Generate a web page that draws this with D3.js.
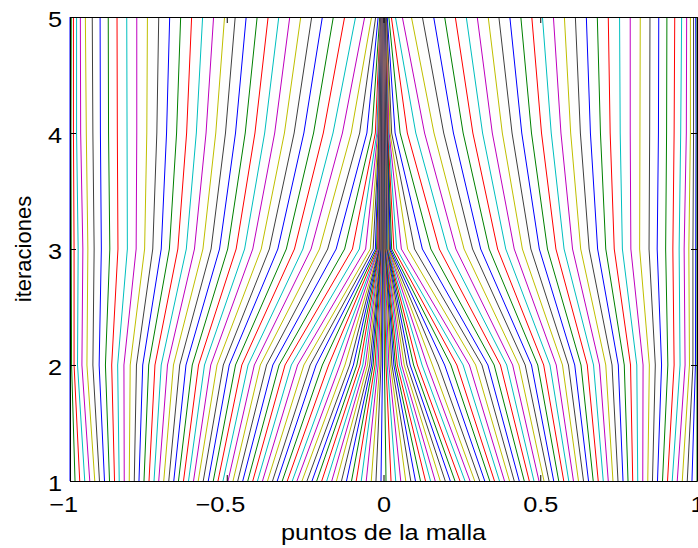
<!DOCTYPE html>
<html>
<head>
<meta charset="utf-8">
<script src="https://cdn.jsdelivr.net/npm/d3@7"></script>
<style>
  body { margin: 0; background: #fff; }
  text { font-family: "Liberation Sans", Arial, sans-serif; }
</style>
</head>
<body>
<div id="chart"></div>
<script>
// mesh point positions, one array per iteration (128 points each)
var iterations = [1, 2, 3, 4, 5];

var iter1 = [
  -1, -0.984, -0.969, -0.953, -0.937, -0.921, -0.906, -0.890, -0.874, -0.858,
  -0.843, -0.827, -0.811, -0.795, -0.780, -0.764, -0.748, -0.732, -0.717, -0.701,
  -0.685, -0.669, -0.654, -0.638, -0.622, -0.606, -0.591, -0.575, -0.559, -0.543,
  -0.528, -0.512, -0.496, -0.480, -0.465, -0.449, -0.433, -0.417, -0.402, -0.386,
  -0.370, -0.354, -0.339, -0.323, -0.307, -0.291, -0.276, -0.260, -0.244, -0.228,
  -0.213, -0.197, -0.181, -0.165, -0.150, -0.134, -0.118, -0.102, -0.087, -0.071,
  -0.055, -0.039, -0.024, -0.008,
  0.008, 0.024, 0.039, 0.055, 0.071, 0.087, 0.102, 0.118, 0.134, 0.150,
  0.165, 0.181, 0.197, 0.213, 0.228, 0.244, 0.260, 0.276, 0.291, 0.307,
  0.323, 0.339, 0.354, 0.370, 0.386, 0.402, 0.417, 0.433, 0.449, 0.465,
  0.480, 0.496, 0.512, 0.528, 0.543, 0.559, 0.575, 0.591, 0.606, 0.622,
  0.638, 0.654, 0.669, 0.685, 0.701, 0.717, 0.732, 0.748, 0.764, 0.780,
  0.795, 0.811, 0.827, 0.843, 0.858, 0.874, 0.890, 0.906, 0.921, 0.937,
  0.953, 0.969, 0.984, 1
];

var iter2 = [
  -1, -0.995, -0.987, -0.976, -0.962, -0.946, -0.927, -0.907, -0.887, -0.867,
  -0.848, -0.828, -0.808, -0.788, -0.768, -0.749, -0.729, -0.709, -0.689, -0.670,
  -0.650, -0.630, -0.610, -0.590, -0.571, -0.551, -0.531, -0.511, -0.492, -0.472,
  -0.452, -0.432, -0.412, -0.393, -0.373, -0.353, -0.333, -0.314, -0.294, -0.274,
  -0.254, -0.234, -0.215, -0.195, -0.175, -0.156, -0.139, -0.123, -0.108, -0.096,
  -0.085, -0.075, -0.066, -0.058, -0.051, -0.044, -0.038, -0.033, -0.027, -0.022,
  -0.017, -0.012, -0.008, -0.003,
  0.003, 0.008, 0.012, 0.017, 0.022, 0.027, 0.033, 0.038, 0.044, 0.051,
  0.058, 0.066, 0.075, 0.085, 0.096, 0.108, 0.123, 0.139, 0.156, 0.175,
  0.195, 0.215, 0.234, 0.254, 0.274, 0.294, 0.314, 0.333, 0.353, 0.373,
  0.393, 0.412, 0.432, 0.452, 0.472, 0.492, 0.511, 0.531, 0.551, 0.571,
  0.590, 0.610, 0.630, 0.650, 0.670, 0.689, 0.709, 0.729, 0.749, 0.768,
  0.788, 0.808, 0.828, 0.848, 0.867, 0.887, 0.907, 0.927, 0.946, 0.962,
  0.976, 0.987, 0.995, 1
];

var iter3 = [
  -1, -0.996, -0.987, -0.974, -0.959, -0.943, -0.923, -0.900, -0.873, -0.847,
  -0.817, -0.789, -0.762, -0.736, -0.709, -0.683, -0.656, -0.629, -0.603, -0.576,
  -0.550, -0.523, -0.497, -0.470, -0.443, -0.417, -0.390, -0.364, -0.337, -0.310,
  -0.284, -0.257, -0.231, -0.204, -0.178, -0.151, -0.124, -0.099, -0.077, -0.057,
  -0.042, -0.033, -0.026, -0.022, -0.019, -0.017, -0.016, -0.014, -0.0135, -0.0127,
  -0.0118, -0.0110, -0.0102, -0.0093, -0.0085, -0.0077, -0.0068, -0.0060, -0.0051, -0.0043,
  -0.0035, -0.0026, -0.0018, -0.0010,
  0.0010, 0.0018, 0.0026, 0.0035, 0.0043, 0.0051, 0.0060, 0.0068, 0.0077, 0.0085,
  0.0093, 0.0102, 0.0110, 0.0118, 0.0127, 0.0135, 0.014, 0.016, 0.017, 0.019,
  0.022, 0.026, 0.033, 0.042, 0.057, 0.077, 0.099, 0.124, 0.151, 0.178,
  0.204, 0.231, 0.257, 0.284, 0.310, 0.337, 0.364, 0.390, 0.417, 0.443,
  0.470, 0.497, 0.523, 0.550, 0.576, 0.603, 0.629, 0.656, 0.683, 0.709,
  0.736, 0.762, 0.789, 0.817, 0.847, 0.873, 0.900, 0.923, 0.943, 0.959,
  0.974, 0.987, 0.996, 1
];

var iter4 = [
  -1, -0.997, -0.989, -0.979, -0.966, -0.948, -0.927, -0.903, -0.877, -0.849,
  -0.818, -0.787, -0.755, -0.723, -0.692, -0.660, -0.628, -0.597, -0.566, -0.535,
  -0.504, -0.472, -0.441, -0.410, -0.379, -0.347, -0.316, -0.285, -0.254, -0.223,
  -0.192, -0.161, -0.131, -0.103, -0.076, -0.053, -0.037, -0.026, -0.021, -0.018,
  -0.016, -0.014, -0.0134, -0.0128, -0.0122, -0.0116, -0.0110, -0.0104, -0.0098, -0.0092,
  -0.0085, -0.0079, -0.0073, -0.0067, -0.0061, -0.0055, -0.0049, -0.0043, -0.0037, -0.0031,
  -0.0025, -0.0019, -0.0012, -0.0006,
  0.0006, 0.0012, 0.0019, 0.0025, 0.0031, 0.0037, 0.0043, 0.0049, 0.0055, 0.0061,
  0.0067, 0.0073, 0.0079, 0.0085, 0.0092, 0.0098, 0.0104, 0.0110, 0.0116, 0.0122,
  0.0128, 0.0134, 0.014, 0.016, 0.018, 0.021, 0.026, 0.037, 0.053, 0.076,
  0.103, 0.131, 0.161, 0.192, 0.223, 0.254, 0.285, 0.316, 0.347, 0.379,
  0.410, 0.441, 0.472, 0.504, 0.535, 0.566, 0.597, 0.628, 0.660, 0.692,
  0.723, 0.755, 0.787, 0.818, 0.849, 0.877, 0.903, 0.927, 0.948, 0.966,
  0.979, 0.989, 0.997, 1
];

var iter5 = [
  -1, -0.996, -0.989, -0.979, -0.967, -0.951, -0.929, -0.904, -0.878, -0.850,
  -0.819, -0.787, -0.753, -0.717, -0.682, -0.647, -0.612, -0.577, -0.542, -0.507,
  -0.473, -0.438, -0.403, -0.368, -0.334, -0.299, -0.264, -0.229, -0.195, -0.160,
  -0.124, -0.089, -0.060, -0.038, -0.025, -0.017, -0.012, -0.0099, -0.0095, -0.0092,
  -0.0088, -0.0084, -0.0080, -0.0077, -0.0073, -0.0070, -0.0066, -0.0062, -0.0058, -0.0055,
  -0.0051, -0.0047, -0.0044, -0.0040, -0.0036, -0.0033, -0.0029, -0.0025, -0.0022, -0.0018,
  -0.0014, -0.0011, -0.0007, -0.0003,
  0.0003, 0.0007, 0.0011, 0.0014, 0.0018, 0.0022, 0.0025, 0.0029, 0.0033, 0.0036,
  0.0040, 0.0044, 0.0047, 0.0051, 0.0055, 0.0058, 0.0062, 0.0066, 0.0070, 0.0073,
  0.0077, 0.0080, 0.0084, 0.0088, 0.0092, 0.0095, 0.0099, 0.012, 0.017, 0.025,
  0.038, 0.060, 0.089, 0.124, 0.160, 0.195, 0.229, 0.264, 0.299, 0.334,
  0.368, 0.403, 0.438, 0.473, 0.507, 0.542, 0.577, 0.612, 0.647, 0.682,
  0.717, 0.753, 0.787, 0.819, 0.850, 0.878, 0.904, 0.929, 0.951, 0.967,
  0.979, 0.989, 0.996, 1
];

var xTicks = [-1, -0.5, 0, 0.5, 1];
var xTickLabels = ["\u22121", "\u22120.5", "0", "0.5", "1"];
var yTicks = [1, 2, 3, 4, 5];
var yTickLabels = ["1", "2", "3", "4", "5"];

// matlab default line colour order
var lineColors = ["#0000ff", "#008000", "#ff0000", "#00bfbf", "#bf00bf", "#bfbf00", "#404040"];

var svgWidth = 698;
var svgHeight = 548;
var margin = { top: 17, right: 1, bottom: 67, left: 70 };
var width = svgWidth - margin.left - margin.right;
var height = svgHeight - margin.top - margin.bottom;
var stretch = 1.15;

var svg = d3.select("#chart")
  .append("svg")
  .attr("width", svgWidth)
  .attr("height", svgHeight);

var chartGroup = svg.append("g")
  .attr("transform", `translate(${margin.left}, ${margin.top})`);

var xScale = d3.scaleLinear().domain([-1, 1]).range([0, width]);
var yScale = d3.scaleLinear().domain([1, 5]).range([height, 0]);

var meshes = [iter1, iter2, iter3, iter4, iter5];
var paths = d3.range(iter1.length).map(function(k) {
  return iterations.map(function(it, i) { return { it: it, x: meshes[i][k] }; });
});

// frame + ticks (inward, on all four sides)
function styleAxis(g) {
  g.attr("font-family", null).attr("font-size", 22);
  g.select(".domain").attr("stroke", "#000").attr("stroke-width", 1);
  g.selectAll(".tick line").attr("stroke", "#000");
}

var line = d3.line()
  .x(d => xScale(d.x))
  .y(d => yScale(d.it));

chartGroup.append("g")
  .selectAll("path")
  .data(paths)
  .join("path")
  .attr("d", line)
  .attr("fill", "none")
  .attr("stroke", (d, k) => lineColors[k % lineColors.length])
  .attr("stroke-width", 1);

var bottomAxis = chartGroup.append("g")
  .attr("transform", `translate(0, ${height})`)
  .call(d3.axisBottom(xScale).tickValues(xTicks).tickSizeInner(-6).tickSizeOuter(0).tickPadding(15)
    .tickFormat((d, i) => xTickLabels[i]))
  .call(styleAxis);
bottomAxis.selectAll(".tick text")
  .attr("fill", "#000")
  .attr("dx", d => d < 0 ? -6 : 0)
  .attr("transform", `scale(${stretch},1)`);

chartGroup.append("g")
  .call(d3.axisTop(xScale).tickValues(xTicks).tickSizeInner(-6).tickSizeOuter(0).tickFormat(""))
  .call(styleAxis);

var leftAxis = chartGroup.append("g")
  .call(d3.axisLeft(yScale).tickValues(yTicks).tickSizeInner(-6).tickSizeOuter(0).tickPadding(7)
    .tickFormat((d, i) => yTickLabels[i]))
  .call(styleAxis);
leftAxis.selectAll(".tick text")
  .attr("fill", "#000")
  .attr("dy", "0.41em")
  .attr("transform", `scale(${stretch},1)`);

chartGroup.append("g")
  .attr("transform", `translate(${width}, 0)`)
  .call(d3.axisRight(yScale).tickValues(yTicks).tickSizeInner(-6).tickSizeOuter(0).tickFormat(""))
  .call(styleAxis);

// axis titles
svg.append("g")
  .attr("transform", `translate(${margin.left + width / 2}, 540)`)
  .append("text")
  .attr("text-anchor", "middle")
  .attr("font-size", 22)
  .attr("transform", `scale(${stretch},1)`)
  .text("puntos de la malla");

svg.append("g")
  .attr("transform", `translate(31, ${margin.top + height / 2}) rotate(-90)`)
  .append("text")
  .attr("text-anchor", "middle")
  .attr("font-size", 22)
  .text("iteraciones");
</script>
</body>
</html>
